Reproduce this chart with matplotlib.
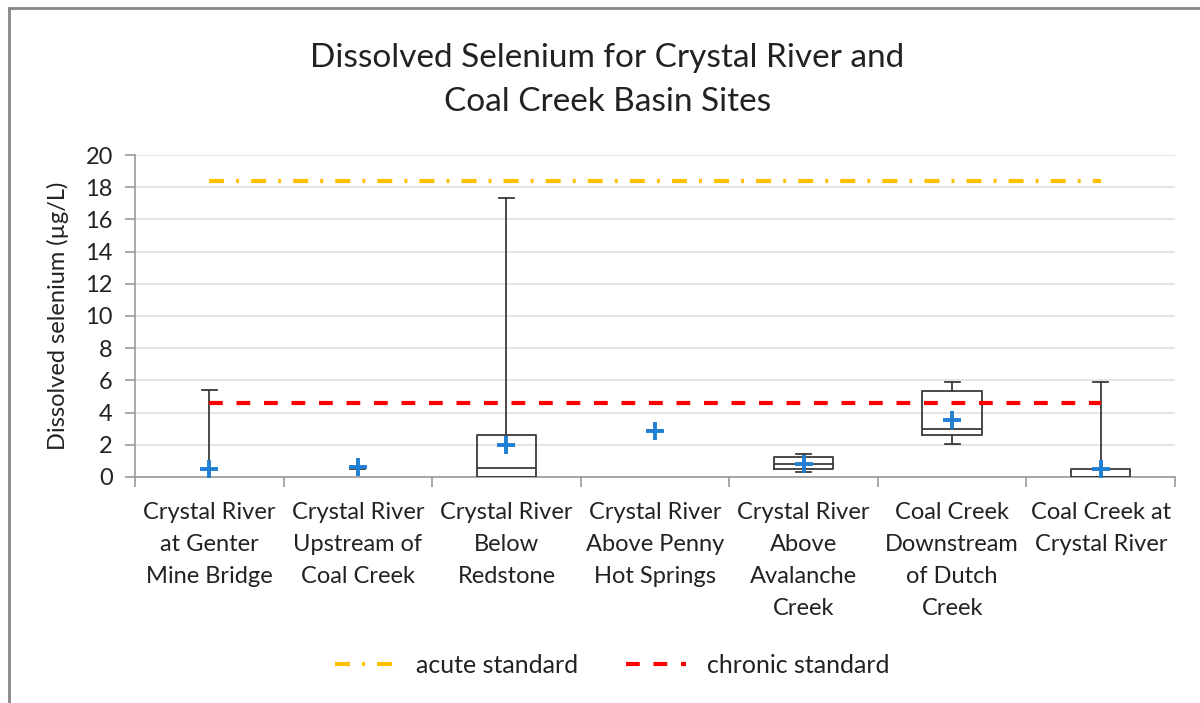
import matplotlib
matplotlib.use("Agg")
import matplotlib.pyplot as plt
from matplotlib.lines import Line2D

plt.rcParams['font.family'] = ['Lato', 'DejaVu Sans']

sites = ["Crystal River\nat Genter\nMine Bridge", "Crystal River\nUpstream of\nCoal Creek",
         "Crystal River\nBelow\nRedstone", "Crystal River\nAbove Penny\nHot Springs",
         "Crystal River\nAbove\nAvalanche\nCreek", "Coal Creek\nDownstream\nof Dutch\nCreek",
         "Coal Creek at\nCrystal River"]
whis_lo = [0.0, 0.5, 0.0, 2.9, 0.3, 2.05, 0.0]
q1 = [0.0, 0.5, 0.0, 2.9, 0.5, 2.6, 0.0]
median = [0.0, 0.5, 0.55, 2.9, 0.8, 3.0, 0.0]
q3 = [0.0, 0.5, 2.6, 2.9, 1.25, 5.35, 0.5]
whis_hi = [5.4, 0.5, 17.3, 2.9, 1.4, 5.9, 5.9]
means = [0.5, 0.6, 2.0, 2.85, 0.8, 3.55, 0.5]
acute_standard = 18.4
chronic_standard = 4.6
yticks = list(range(0, 21, 2))

FS = 17
TC = '#222222'
fig = plt.figure(figsize=(12, 7.03), dpi=100)
ax = fig.add_axes([0.1125, 0.3215, 0.8667, 0.458])

stats = []
for i in range(len(sites)):
    stats.append(dict(med=median[i], q1=q1[i], q3=q3[i], whislo=whis_lo[i],
                      whishi=whis_hi[i], mean=means[i], fliers=[]))
pos = list(range(1, len(sites) + 1))
lc = '#3a3a3a'
art = ax.bxp(stats, positions=pos, widths=0.4, showmeans=True, showfliers=False,
             boxprops=dict(color=lc, lw=1.3), whiskerprops=dict(color=lc, lw=1.3),
             capprops=dict(color=lc, lw=1.3), medianprops=dict(color=lc, lw=1.3),
             capwidths=0.1,
             meanprops=dict(marker='+', markeredgecolor='#1f7fd0', markersize=13,
                            markeredgewidth=2.8), zorder=3)
for i in range(len(sites)):
    if q1[i] == q3[i]:
        art['boxes'][i].set_visible(False)
        art['medians'][i].set_visible(False)
    if whis_lo[i] == q1[i]:
        art['caps'][2 * i].set_visible(False)
for m in art['means']:
    m.set_zorder(5)

ax.plot([pos[0], pos[-1]], [acute_standard] * 2, color='#FFC000', lw=3,
        dashes=(3.6, 2.9, 0.7, 2.9), dash_capstyle='butt', zorder=4)
ax.plot([pos[0], pos[-1]], [chronic_standard] * 2, color='#FF0000', lw=3,
        dashes=(3.3, 3.3), dash_capstyle='butt', zorder=4)

ax.set_xlim(0.5, len(sites) + 0.5)
ax.set_ylim(0, 20)
ax.set_yticks(yticks)
ax.set_yticklabels([str(v) for v in yticks], fontsize=FS, color=TC)
ax.set_xticks([p + 0.5 for p in [0] + pos])
ax.set_xticklabels([])
ax.set_xticks(pos, minor=True)
ax.set_xticklabels(sites, minor=True, fontsize=FS, color=TC, linespacing=1.65, va='top')
ax.tick_params(axis='x', which='minor', length=0, pad=18)
ax.tick_params(axis='x', which='major', length=7, color='#999999', width=1.2, direction='out')
ax.tick_params(axis='y', length=7, color='#999999', width=1.2, pad=9)
ax.grid(axis='y', color='#dddddd', lw=1.1, zorder=0)
ax.set_axisbelow(True)
for s in ['top', 'right']:
    ax.spines[s].set_visible(False)
for s in ['left', 'bottom']:
    ax.spines[s].set_color('#999999')
    ax.spines[s].set_linewidth(1.2)

ax.set_ylabel('Dissolved selenium (µg/L)', fontsize=FS, color=TC, labelpad=12)
fig.text(0.506, 0.886, 'Dissolved Selenium for Crystal River and\nCoal Creek Basin Sites',
         ha='center', va='center', fontsize=24, color=TC, linespacing=1.58)

handles = [Line2D([], [], color='#FFC000', lw=3, dashes=(3.6, 2.9, 0.7, 2.9), dash_capstyle='butt'),
           Line2D([], [], color='#FF0000', lw=3, dashes=(3.3, 3.3), dash_capstyle='butt')]
fig.legend(handles, ['acute standard', 'chronic standard'], loc='center',
           bbox_to_anchor=(0.51, 0.054), ncol=2, frameon=False, fontsize=18,
           handlelength=2.4, columnspacing=1.9, handletextpad=0.85, labelcolor=TC)

fig.add_artist(Line2D([0.0075, 0.0075], [0.0, 0.988], transform=fig.transFigure,
                      color='#888888', lw=2))
fig.add_artist(Line2D([0.0075, 1.0], [0.988, 0.988], transform=fig.transFigure,
                      color='#888888', lw=2))

fig.savefig('out.png', dpi=100)
